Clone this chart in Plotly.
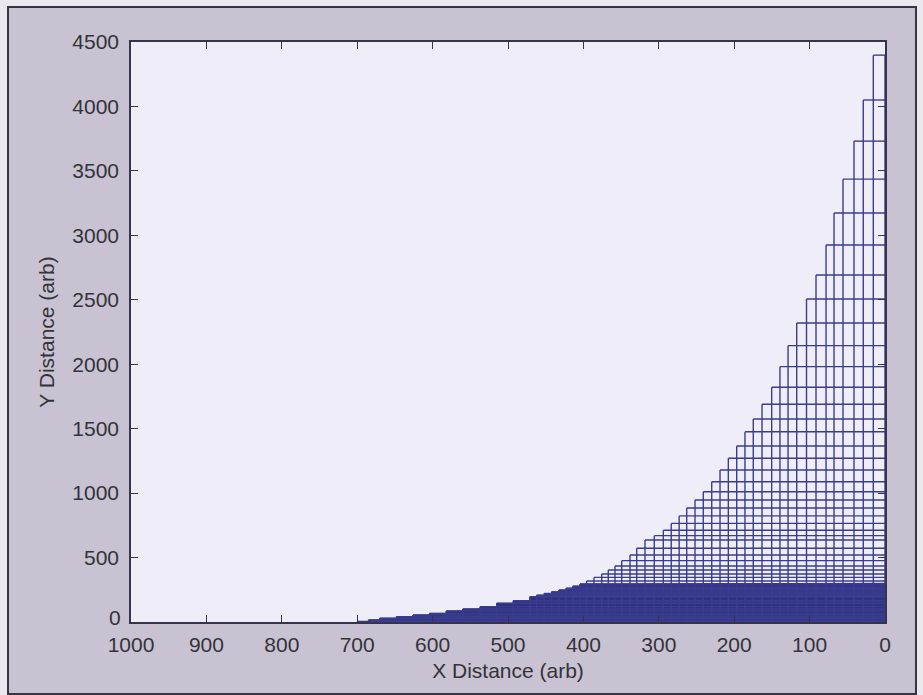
import plotly.graph_objects as go

# Mesh columns, listed from x = 0 outward: left edge of each column and its height
col_left = [15.5, 28.8, 41.1, 55.7, 67.6, 78.2, 91.5, 104.1, 117.1, 128.6,
            139.3, 150.3, 163.1, 174.7, 185.7, 196.7, 207.8, 218.8, 229.8, 241.0,
            252.0, 263.0, 273.0, 283.5, 294.0, 306.0, 318.3, 329.3, 338.2, 349.2,
            358.1, 367.0, 375.7, 386.0, 395.8, 404.5, 414.0, 423.0, 432.5, 442.0,
            452.0, 462.0, 471.0, 493.0, 515.0, 537.0, 560.0, 582.0, 604.0, 626.0,
            648.0, 670.0, 685.0, 700.0]
col_top = [4398, 4050, 3731, 3436, 3173, 2925, 2692, 2506, 2320, 2144,
           1981, 1821, 1690, 1575, 1476, 1365, 1270, 1179, 1088, 1011,
           946, 885, 823, 765, 712, 670, 636, 572, 520, 476,
           434, 403, 372, 346, 318, 295, 278, 262, 248, 234,
           221, 208, 196, 165, 145, 119, 101, 85, 67, 54,
           41, 29, 16, 4]

# Rows below this level are packed too tightly to separate; drawn as a solid band
dense_top = 300

x_ticks = [0, 100, 200, 300, 400, 500, 600, 700, 800, 900, 1000]
y_ticks = [0, 500, 1000, 1500, 2000, 2500, 3000, 3500, 4000, 4500]
# the "0" on the y axis is set a little higher so it clears the x labels
y_ticktext = [""] + [str(v) for v in y_ticks[1:]]

LINE = "#3a3d8e"
BAND = "#2e3181"
TXT = "#333338"
FONT = "Liberation Sans, Arial, sans-serif"

# grid lines: one vertical per column edge, one horizontal per row level
gx, gy = [0, 0, None], [0, col_top[0], None]
for left, top in zip(col_left, col_top):
    gx += [left, left, None, 0, left, None]
    gy += [0, top, None, top, top, None]

# solid band under the staircase, capped at dense_top
bx, by = [0], [0]
right = 0
for left, top in zip(col_left, col_top):
    h = min(top, dense_top)
    bx += [right, left]
    by += [h, h]
    right = left
bx += [right, 0]
by += [0, 0]

fig = go.Figure()
fig.add_trace(go.Scatter(x=bx, y=by, mode="lines", fill="toself",
                         fillcolor=BAND, line=dict(color=BAND, width=1),
                         hoverinfo="skip", showlegend=False))
fig.add_trace(go.Scatter(x=gx, y=gy, mode="lines",
                         line=dict(color=LINE, width=1.4),
                         hoverinfo="skip", showlegend=False))

axis_common = dict(showgrid=False, zeroline=False, showline=True, linecolor="#35344a",
                   linewidth=1.5, mirror="ticks", ticks="inside", ticklen=7,
                   tickcolor="#35344a", tickwidth=1.3,
                   tickfont=dict(family=FONT, size=21, color=TXT))

fig.update_xaxes(range=[1000, 0], tickvals=x_ticks, ticklabelstandoff=3,
                 title=dict(text="X Distance (arb)", standoff=8,
                            font=dict(family=FONT, size=21, color=TXT)),
                 **axis_common)
fig.update_yaxes(range=[0, 4500], tickvals=y_ticks, ticktext=y_ticktext,
                 ticklabelstandoff=6,
                 title=dict(text="Y Distance (arb)", standoff=12,
                            font=dict(family=FONT, size=21, color=TXT)),
                 **axis_common)

fig.add_annotation(x=0, xref="paper", y=y_ticks[0], yref="y", text=str(y_ticks[0]),
                   showarrow=False, xanchor="right", yanchor="middle",
                   xshift=-8, yshift=5, font=dict(family=FONT, size=21, color=TXT))

# outer frame of the figure panel
FRAME_BG = "#c9c2d2"
OUTSIDE = "#ebe8f0"
fl, fr, fb, ft = -0.1631, 1.0411, -0.1241, 1.0603
shapes = [
    dict(type="rect", xref="paper", yref="paper", x0=-0.3, x1=fl, y0=-0.3, y1=1.3,
         fillcolor=OUTSIDE, line=dict(width=0), layer="below"),
    dict(type="rect", xref="paper", yref="paper", x0=fr, x1=1.3, y0=-0.3, y1=1.3,
         fillcolor=OUTSIDE, line=dict(width=0), layer="below"),
    dict(type="rect", xref="paper", yref="paper", x0=-0.3, x1=1.3, y0=ft, y1=1.3,
         fillcolor=OUTSIDE, line=dict(width=0), layer="below"),
    dict(type="rect", xref="paper", yref="paper", x0=-0.3, x1=1.3, y0=-0.3, y1=fb,
         fillcolor=OUTSIDE, line=dict(width=0), layer="below"),
    dict(type="rect", xref="paper", yref="paper", x0=fl, x1=fr, y0=fb, y1=ft,
         fillcolor="rgba(0,0,0,0)", line=dict(color="#3a3440", width=2), layer="below"),
]

fig.update_layout(width=923, height=695, margin=dict(l=131, r=38, t=42, b=73),
                  paper_bgcolor=FRAME_BG, plot_bgcolor="#eeedf8", shapes=shapes)

fig.write_html("out.html")
